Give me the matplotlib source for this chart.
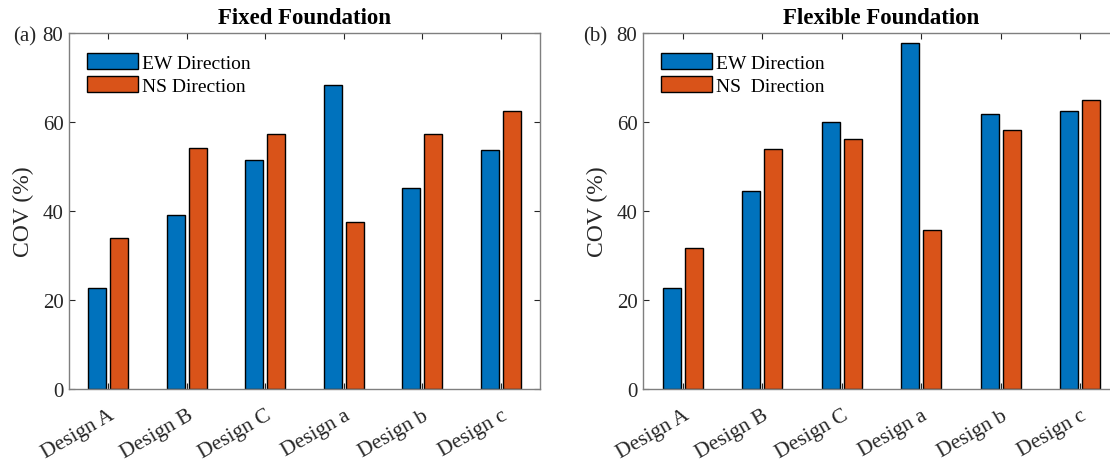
import numpy as np
import matplotlib
matplotlib.use("Agg")
import matplotlib.pyplot as plt
from matplotlib.transforms import ScaledTranslation

plt.rcParams['font.family'] = ['Liberation Serif', 'DejaVu Serif']

designs = ['Design A', 'Design B', 'Design C', 'Design a', 'Design b', 'Design c']
fixed_ew = [22.6, 39.1, 51.4, 68.3, 45.1, 53.8]
fixed_ns = [33.9, 54.1, 57.4, 37.6, 57.4, 62.4]
flex_ew = [22.8, 44.5, 60.1, 77.7, 61.7, 62.4]
flex_ns = [31.6, 53.9, 56.2, 35.8, 58.3, 65.0]
yticks = [0, 20, 40, 60, 80]

EW_COLOR = '#0072BD'
NS_COLOR = '#D95319'
AX_COLOR = '#7f7f7f'
TXT_COLOR = '#262626'

W, H = 1110, 464
fig = plt.figure(figsize=(W / 100, H / 100), dpi=100)

panels = [
    dict(rect=[69 / W, 74 / H, 471 / W, 356 / H], ew=fixed_ew, ns=fixed_ns,
         title='Fixed Foundation', tag='(a)', tag_x=-0.07,
         labels=['EW Direction', 'NS Direction']),
    dict(rect=[643 / W, 74 / H, 477 / W, 356 / H], ew=flex_ew, ns=flex_ns,
         title='Flexible Foundation', tag='(b)', tag_x=-0.075,
         labels=['EW Direction', 'NS  Direction']),
]

x = np.arange(1, len(designs) + 1)
bw = 0.229
off = 0.14
shift = ScaledTranslation(5 / 100, 0, fig.dpi_scale_trans)

for p in panels:
    ax = fig.add_axes(p['rect'])
    ax.bar(x - off, p['ew'], bw, color=EW_COLOR, edgecolor='black', linewidth=1.0,
           label=p['labels'][0])
    ax.bar(x + off, p['ns'], bw, color=NS_COLOR, edgecolor='black', linewidth=1.0,
           label=p['labels'][1])
    ax.set_xlim(0.5, 6.5)
    ax.set_ylim(0, 80)
    ax.set_yticks(yticks)
    ax.set_xticks(x)
    ax.set_xticklabels(designs, rotation=30, ha='right', va='top',
                       rotation_mode='anchor', fontsize=15.5, color=TXT_COLOR)
    for lab in ax.get_xticklabels():
        lab.set_transform(lab.get_transform() + shift)
    ax.tick_params(axis='y', labelsize=15, labelcolor=TXT_COLOR, pad=4)
    ax.tick_params(direction='in', length=4, width=0.8, color=TXT_COLOR,
                   top=True, right=True)
    ax.tick_params(axis='x', pad=12)
    for s in ax.spines.values():
        s.set_color(AX_COLOR)
        s.set_linewidth(1.0)
    ax.set_ylabel('COV (%)', fontsize=17, color=TXT_COLOR, labelpad=6)
    ax.set_title(p['title'], fontsize=16.5, fontweight='bold', pad=7)
    ax.text(p['tag_x'], 0.993, p['tag'], transform=ax.transAxes, fontsize=15,
            ha='right', va='center', color=TXT_COLOR)
    ax.legend(loc='upper left', frameon=False, fontsize=14, handlelength=2.6,
              handleheight=0.9, handletextpad=0.2, labelspacing=0.2,
              borderaxespad=0.0, bbox_to_anchor=(0.022, 0.965))

fig.savefig('out.png', dpi=100)
